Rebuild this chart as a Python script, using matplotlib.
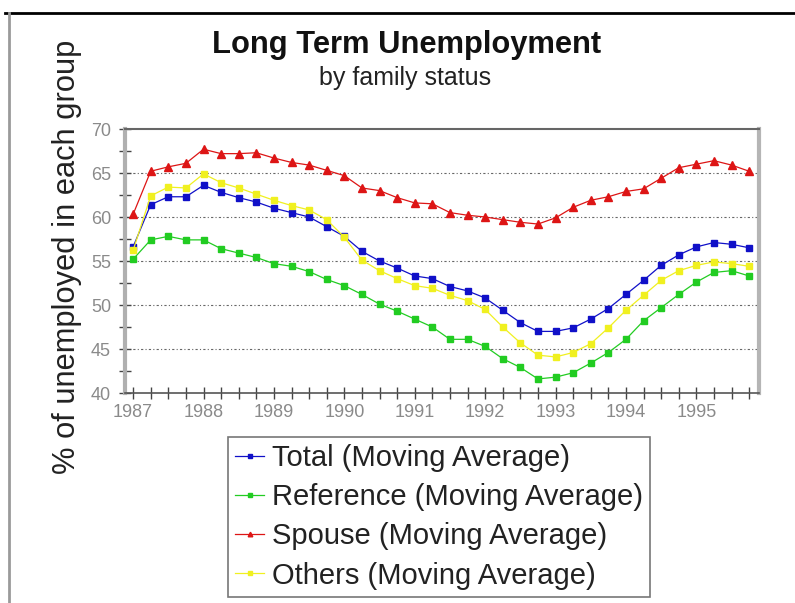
import numpy as np
import matplotlib.pyplot as plt
from matplotlib.lines import Line2D
from matplotlib.ticker import MultipleLocator

# quarterly moving averages, 1987 Q1 .. 1995 Q4
quarters = 1987 + np.arange(36) / 4.0
years = [1987, 1988, 1989, 1990, 1991, 1992, 1993, 1994, 1995]

total = [56.6, 61.4, 62.3, 62.3, 63.6, 62.8, 62.2, 61.7, 61.0, 60.5,
         60.0, 58.9, 57.8, 56.1, 55.0, 54.2, 53.3, 53.0, 52.1, 51.6,
         50.8, 49.4, 48.0, 47.0, 47.0, 47.4, 48.4, 49.6, 51.2, 52.8,
         54.5, 55.7, 56.6, 57.1, 56.9, 56.5]
reference = [55.2, 57.4, 57.8, 57.4, 57.4, 56.4, 55.9, 55.4, 54.7, 54.4,
             53.8, 52.9, 52.2, 51.2, 50.1, 49.3, 48.4, 47.5, 46.1, 46.1,
             45.3, 43.9, 42.9, 41.6, 41.8, 42.3, 43.4, 44.6, 46.1, 48.2,
             49.7, 51.2, 52.6, 53.7, 53.9, 53.3]
spouse = [60.3, 65.2, 65.7, 66.1, 67.7, 67.2, 67.2, 67.3, 66.7, 66.2,
          65.9, 65.3, 64.7, 63.3, 63.0, 62.2, 61.6, 61.5, 60.5, 60.2,
          60.0, 59.7, 59.4, 59.2, 59.9, 61.1, 61.9, 62.3, 62.9, 63.2,
          64.4, 65.6, 66.0, 66.4, 65.9, 65.2]
others = [56.2, 62.4, 63.4, 63.3, 64.9, 63.9, 63.3, 62.6, 61.9, 61.3,
          60.8, 59.7, 57.7, 55.1, 53.9, 53.0, 52.2, 51.9, 51.1, 50.5,
          49.5, 47.5, 45.7, 44.3, 44.1, 44.6, 45.6, 47.4, 49.4, 51.1,
          52.8, 53.9, 54.5, 54.9, 54.7, 54.4]

labels = ["Total (Moving Average)", "Reference (Moving Average)",
          "Spouse (Moving Average)", "Others (Moving Average)"]

plt.rcParams['font.family'] = ['Liberation Sans', 'DejaVu Sans']

fig = plt.figure(figsize=(7.95, 6.03), dpi=100)
ax = fig.add_axes([125/795, 1-393/603, (759-125)/795, (393-129)/603])

#---------------------------------#
#   series
#---------------------------------#
ax.plot(quarters, total, color='#1010c8', marker='s', ms=5, lw=0.9, label=labels[0])
ax.plot(quarters, reference, color='#22cc22', marker='s', ms=5, lw=0.9, label=labels[1])
ax.plot(quarters, spouse, color='#dd1515', marker='^', ms=5.5, lw=0.9, label=labels[2])
ax.plot(quarters, others, color='#f0f020', marker='s', ms=5, lw=0.9, label=labels[3])

ax.set_xlim(1986.885, 1995.89)
ax.set_ylim(40, 70)
ax.set_xticks(years)
ax.set_xticklabels([str(y) for y in years])
ax.xaxis.set_minor_locator(MultipleLocator(0.25))
ax.yaxis.set_major_locator(MultipleLocator(5))
ax.yaxis.set_minor_locator(MultipleLocator(2.5))

for y in [45, 50, 55, 60, 65]:
    ax.axhline(y, color='#666666', lw=0.8, ls=(0, (2, 2, 1, 2)), zorder=0)

ax.tick_params(which='both', direction='inout', length=8, width=1, color='#444444')
ax.tick_params(axis='x', labelsize=13, labelcolor='#8a8a8a', pad=4)
ax.tick_params(axis='y', labelsize=13, labelcolor='#8a8a8a', pad=6)

ax.spines['left'].set_color('#b0b0b0')
ax.spines['left'].set_linewidth(3)
ax.spines['bottom'].set_color('#555555')
ax.spines['bottom'].set_linewidth(1.2)
ax.spines['top'].set_color('#666666')
ax.spines['top'].set_linewidth(1.5)
ax.spines['right'].set_color('#b5b5b5')
ax.spines['right'].set_linewidth(3)

fig.text(67/795, 1-257/603, "% of unemployed in each group", rotation=90,
         fontsize=22.2, ha='center', va='center', color='#222222')
fig.text(407/795, 1-45/603, "Long Term Unemployment", fontsize=22.2,
         fontweight='bold', ha='center', va='center', color='#111111')
fig.text(405/795, 1-78/603, "by family status", fontsize=18,
         ha='center', va='center', color='#222222')

leg = fig.legend(loc='upper left', bbox_to_anchor=(228/795, 1-437/603),
                 fontsize=21, frameon=True, fancybox=False, edgecolor='#555555',
                 handlelength=1.0, handletextpad=0.25, borderpad=0.25,
                 labelspacing=0.38, borderaxespad=0, markerscale=0.6)
leg.get_frame().set_linewidth(1.2)
for t in leg.get_texts():
    t.set_color('#222222')

# window border
fig.add_artist(Line2D([5/795, 1], [1-13/603, 1-13/603], color='black', lw=2))
fig.add_artist(Line2D([9/795, 9/795], [0, 1-13/603], color='#9a9a9a', lw=2))

fig.savefig("out.png", dpi=100)
